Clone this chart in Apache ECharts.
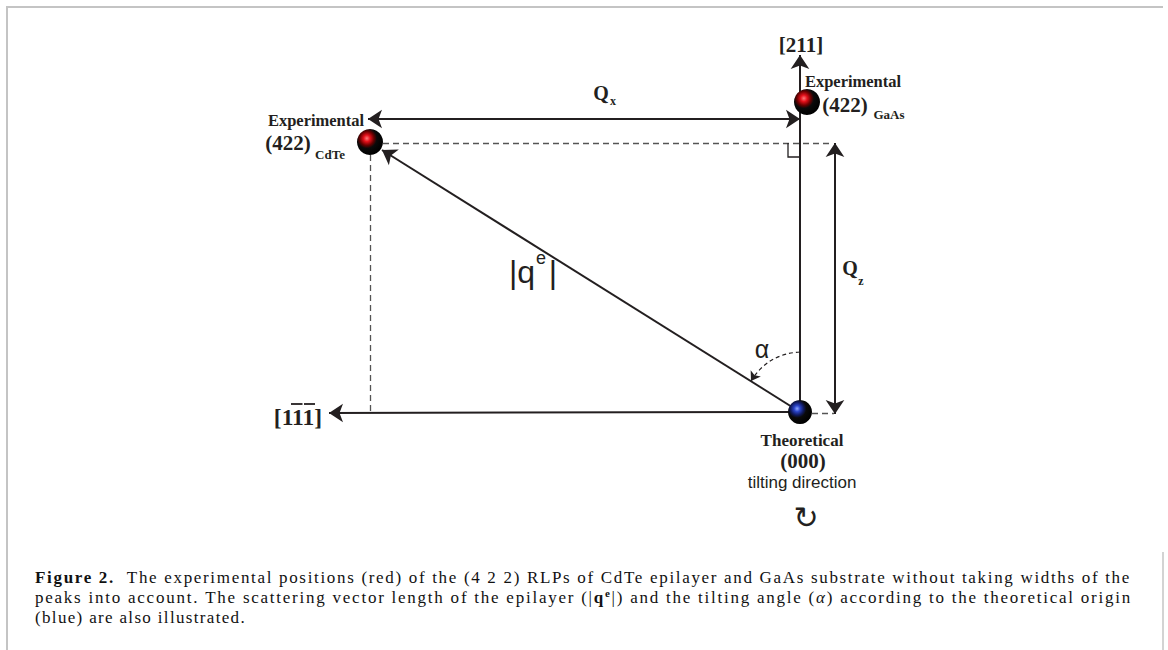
<!DOCTYPE html>
<html><head><meta charset="utf-8">
<script src="https://cdn.jsdelivr.net/npm/echarts@6/dist/echarts.min.js"></script>
<style>html,body{margin:0;padding:0;background:#fff}#c{width:1168px;height:650px}</style>
</head><body><div id="c"></div>
<script>
// ---------- diagram data (figure space, mapped through hidden value axes) ----------
const originPt = [800, 412];
const cdtePt = [370, 142];
const gaasPt = [807, 102];
const tip211 = [800, 55];
const tip1bar = [329, 413];
const qVecTip = [382, 150];
const qxEnds = [[368, 119], [800, 119]];
const qzEnds = [[835, 143], [835, 414]];
const dashH = [[383, 143], [832, 143]];
const dashV = [[370, 155], [370, 413]];
const dashO = [[812, 413], [834, 413]];
const rightAngle = [[788, 143], [788, 157], [800, 157]];
const alphaArc = [[800, 352], [751, 381]];
const overbars = [[[291, 403.5], [302.5, 403.5]], [[304, 403.5], [315, 403.5]]];

const labelTexts = ['[211]', 'Experimental', '(422)', 'GaAs', 'Experimental', '(422)', 'CdTe',
  'Q', 'x', 'Q', 'z', '[111]', '|q', 'e', '|', 'α', 'Theoretical', '(000)', 'tilting direction', '↻'];
const labelPos = [[801, 45], [853, 81], [845, 105], [889, 114], [316, 120], [288, 143], [330, 154],
  [601, 93], [613, 101], [850, 268], [861, 281], [298, 417], [522, 272], [541, 258], [553, 272],
  [762, 349], [802, 440], [803, 461], [802, 482], [806, 517]];

const captionLines = [
  ['{b|Figure\u00a02.}', 'The', 'experimental', 'positions', '(red)', 'of', 'the', '(4\u00a02\u00a02)', 'RLPs', 'of', 'CdTe', 'epilayer', 'and', 'GaAs', 'substrate', 'without', 'taking', 'widths', 'of', 'the'],
  ['peaks', 'into', 'account.', 'The', 'scattering', 'vector', 'length', 'of', 'the', 'epilayer', '(|{b|q}{sup|e}|)', 'and', 'the', 'tilting', 'angle', '({it|α})', 'according', 'to', 'the', 'theoretical', 'origin'],
  ['(blue)', 'are', 'also', 'illustrated.']
];

// ---------- styles ----------
const INK = '#231f20';
const CAPINK = '#111';
const SERIF = '"Liberation Serif","Times New Roman",serif';
const SANS = '"Liberation Sans",Arial,sans-serif';
const labelStyles = [
  {f: SERIF, s: 21, w: 'bold'}, {f: SERIF, s: 16.5, w: 'bold'}, {f: SERIF, s: 21, w: 'bold'}, {f: SERIF, s: 13, w: 'bold'},
  {f: SERIF, s: 16.5, w: 'bold'}, {f: SERIF, s: 21, w: 'bold'}, {f: SERIF, s: 13, w: 'bold'},
  {f: SERIF, s: 20, w: 'bold'}, {f: SERIF, s: 12, w: 'bold'}, {f: SERIF, s: 20, w: 'bold'}, {f: SERIF, s: 12, w: 'bold'},
  {f: SERIF, s: 23.5, w: 'bold'}, {f: SANS, s: 32, w: 'normal'}, {f: SANS, s: 18, w: 'normal'}, {f: SANS, s: 32, w: 'normal'},
  {f: SANS, s: 25, w: 'normal'}, {f: SERIF, s: 17, w: 'bold'}, {f: SERIF, s: 21, w: 'bold'}, {f: SANS, s: 17, w: 'normal'},
  {f: '"DejaVu Sans",sans-serif', s: 30, w: 'normal'}
];

function radial(c0, c1, c2) {
  return {type: 'radial', x: 0.38, y: 0.36, r: 0.64, colorStops: [
    {offset: 0, color: c0}, {offset: 0.2, color: c1}, {offset: 0.42, color: c2},
    {offset: 0.6, color: '#0a0a0a'}, {offset: 1, color: '#000'}]};
}
const seg = p => ({coords: p});
const lineBase = {type: 'lines', coordinateSystem: 'cartesian2d', silent: true, z: 2};

// ---------- caption: words placed along each line, tracking per line ----------
const CAP = 17;
const capLeft = 35, capY = [577, 597, 617];
const capTargets = [1096, 1097, 211];
const capStyle = {'': ['normal', 'normal', CAP], b: ['normal', 'bold', CAP], sup: ['normal', 'bold', 11], it: ['italic', 'normal', CAP]};
const mctx = document.createElement('canvas').getContext('2d');
function measure(t, k) { const s = capStyle[k]; mctx.font = s[0] + ' ' + s[1] + ' ' + s[2] + 'px ' + SERIF; return mctx.measureText(t).width; }
function parseTok(tok) {
  const out = []; const re = /\{(\w+)\|([^}]*)\}/g; let m, last = 0;
  while ((m = re.exec(tok))) { if (m.index > last) out.push({t: tok.slice(last, m.index), k: ''}); out.push({t: m[2], k: m[1]}); last = re.lastIndex; }
  if (last < tok.length) out.push({t: tok.slice(last), k: ''});
  return out;
}
const graphics = [];
let cssRules = '';
captionLines.forEach((words, li) => {
  const segsW = words.map(parseTok);
  let W = 0, Nc = 0;
  segsW.forEach(ss => ss.forEach(s => { s.w = measure(s.t, s.k); W += s.w; Nc += s.t.length; }));
  const G = words.length - 1;
  const sp = measure(' ', '');
  const extra0 = li === 0 ? 6 : 0;
  const ls = Math.max(0, (capTargets[li] - W - G * sp - extra0) / (Nc + G));
  const fam = SERIF + ',cap' + li;
  cssRules += '#c text[style*="cap' + li + '"]{letter-spacing:' + ls.toFixed(3) + 'px}';
  let x = capLeft;
  segsW.forEach((ss, wi) => {
    ss.forEach(s => {
      const st = capStyle[s.k];
      graphics.push({type: 'text', x: x, y: capY[li] + (s.k === 'sup' ? -4 : 0), silent: true,
        style: {text: s.t, fontFamily: fam, fontStyle: st[0], fontWeight: st[1], fontSize: st[2], fill: CAPINK, verticalAlign: 'middle', align: 'left'}});
      x += s.w + s.t.length * ls;
    });
    x += sp + ls + (wi === 0 ? extra0 : 0);
  });
});
const styleEl = document.createElement('style'); styleEl.textContent = cssRules; document.head.appendChild(styleEl);

// frame rules
const FRAME = '#c4c4c4';
graphics.push({type: 'line', silent: true, shape: {x1: 6, y1: 7, x2: 1163, y2: 7}, style: {stroke: FRAME, lineWidth: 2}});
graphics.push({type: 'line', silent: true, shape: {x1: 7, y1: 6, x2: 7, y2: 650}, style: {stroke: FRAME, lineWidth: 2}});
graphics.push({type: 'line', silent: true, shape: {x1: 1163, y1: 552, x2: 1163, y2: 650}, style: {stroke: FRAME, lineWidth: 1.5}});

const chart = echarts.init(document.getElementById('c'), null, {renderer: 'svg'});
chart.setOption({
  animation: false,
  backgroundColor: '#fff',
  grid: {left: 0, right: 0, top: 0, bottom: 0},
  xAxis: {type: 'value', min: 0, max: 1168, show: false},
  yAxis: {type: 'value', min: 0, max: 650, inverse: true, show: false},
  series: [
    Object.assign({}, lineBase, {symbol: ['none', 'arrow'], symbolSize: 14,
      lineStyle: {color: INK, width: 2, opacity: 1},
      data: [seg([originPt, tip211]), seg([originPt, tip1bar]), seg([originPt, qVecTip])]}),
    Object.assign({}, lineBase, {symbol: ['arrow', 'arrow'], symbolSize: 14,
      lineStyle: {color: INK, width: 2, opacity: 1},
      data: [seg(qxEnds), seg(qzEnds)]}),
    Object.assign({}, lineBase, {symbol: ['none', 'none'],
      lineStyle: {color: '#555', width: 1.3, opacity: 1, type: [6, 4]},
      data: [seg(dashH), seg(dashV), seg(dashO)]}),
    Object.assign({}, lineBase, {polyline: true, symbol: ['none', 'none'],
      lineStyle: {color: INK, width: 1.3, opacity: 1},
      data: [seg(rightAngle)]}),
    Object.assign({}, lineBase, {symbol: ['none', 'arrow'], symbolSize: 9,
      lineStyle: {color: INK, width: 1.2, opacity: 1, type: [4, 3], curveness: -0.26},
      data: [seg(alphaArc)]}),
    Object.assign({}, lineBase, {symbol: ['none', 'none'],
      lineStyle: {color: INK, width: 1.8, opacity: 1},
      data: overbars.map(seg)}),
    {type: 'scatter', silent: true, z: 5, symbol: 'circle', itemStyle: {opacity: 1},
      data: [
        {value: originPt, symbolSize: 24, itemStyle: {opacity: 1, color: radial('#8fa8ff', '#2a44c8', '#101a60')}},
        {value: cdtePt, symbolSize: 26, itemStyle: {opacity: 1, color: radial('#ff7a7a', '#e3101a', '#6a0000')}},
        {value: gaasPt, symbolSize: 26, itemStyle: {opacity: 1, color: radial('#ff7a7a', '#e3101a', '#6a0000')}}
      ]},
    {type: 'scatter', silent: true, z: 6, symbolSize: 1, itemStyle: {color: 'rgba(0,0,0,0)', opacity: 1},
      data: labelTexts.map((t, i) => ({value: labelPos[i], label: {show: true, position: 'inside', formatter: t,
        fontFamily: labelStyles[i].f, fontSize: labelStyles[i].s, lineHeight: labelStyles[i].s, fontWeight: labelStyles[i].w, color: INK, opacity: 1}}))}
  ],
  graphic: graphics
});
</script>
</body></html>
